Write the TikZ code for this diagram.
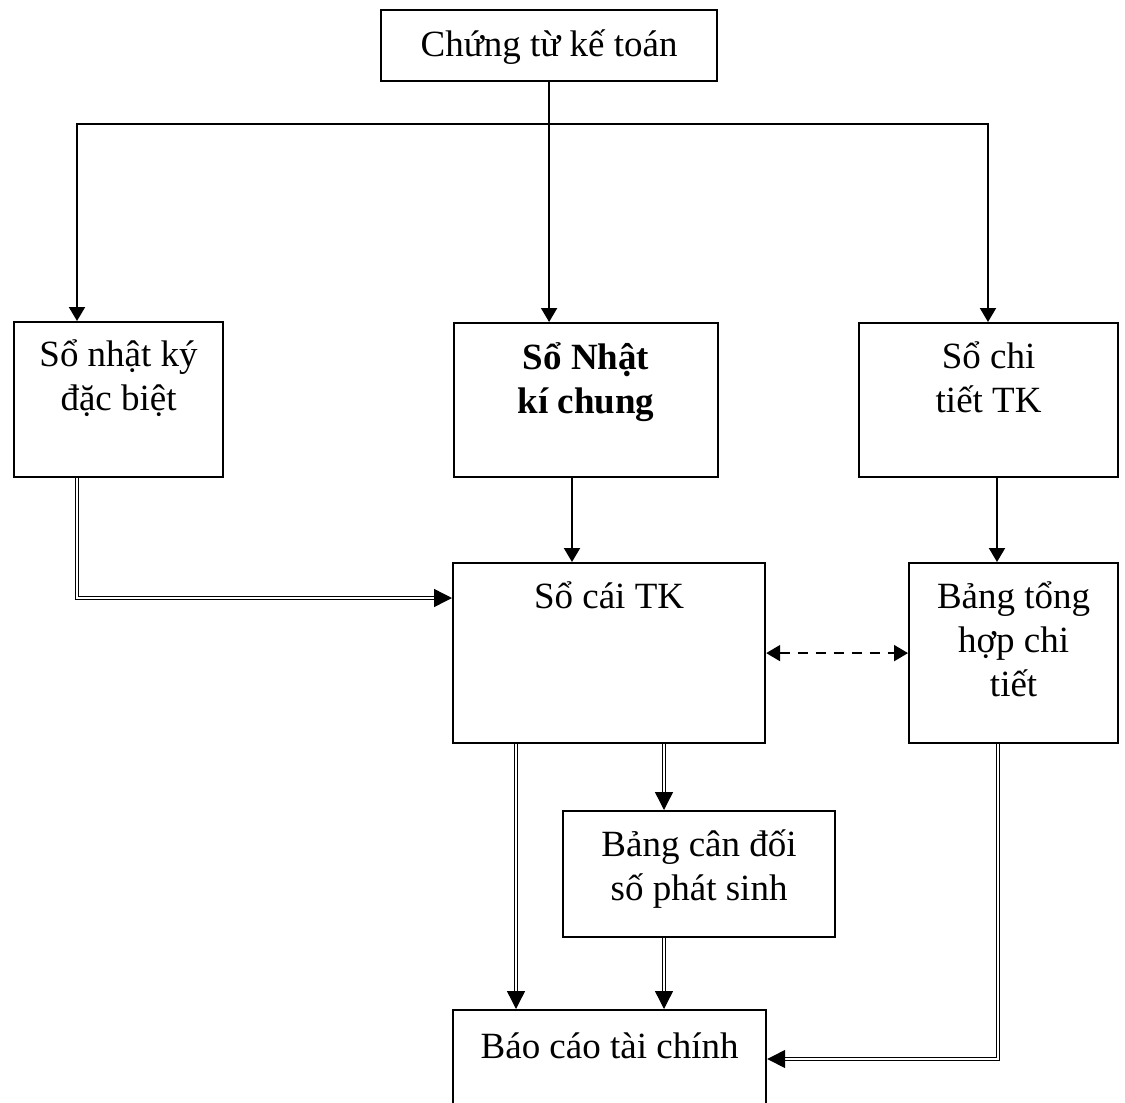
\documentclass[tikz,border=0pt]{standalone}
\usepackage{fontspec}
\setmainfont{Liberation Serif}
\usetikzlibrary{arrows.meta}
\begin{document}
\begin{tikzpicture}[x=0.5pt, y=-0.5pt,
    box/.style={draw, line width=1.1pt, inner sep=0pt, anchor=north west, align=flush center,
      font=\fontsize{18.5}{22}\selectfont},
    arr/.style={line width=1pt, -{Triangle[length=7pt, width=8pt]}},
    dbl/.style={double, double distance=0.9pt, line width=0.7pt, -{Triangle[length=9pt, width=9pt]}},
    dashline/.style={line width=1pt, dash pattern=on 5pt off 4pt,
      {Triangle[length=7pt, width=8pt]}-{Triangle[length=7pt, width=8pt]}}]
  \useasboundingbox (0,0) rectangle (1125,1103);
  % Chung tu ke toan
  \node[box, text width=168pt, text height=23pt, text depth=12.5pt] (ctu) at (380,9) {Chứng từ kế toán};
  % cac so
  \node[box, text width=104.5pt, text height=22pt, text depth=55.5pt] (nky) at (13,321) {Sổ nhật ký\\đặc biệt};
  \node[box, text width=132pt, text height=23pt, text depth=54pt, font=\fontsize{18.5}{22}\selectfont\bfseries] (nkc) at (453,322) {Sổ Nhật\\kí chung};
  \node[box, text width=129.5pt, text height=22.5pt, text depth=54.5pt] (ct) at (858,322) {Sổ chi\\tiết TK};
  \node[box, text width=156pt, text height=22.5pt, text depth=67.5pt] (socai) at (452,562) {Sổ cái TK};
  \node[box, text width=104.5pt, text height=22.5pt, text depth=67.5pt] (bth) at (908,562) {Bảng tổng\\hợp chi\\tiết};
  \node[box, text width=136pt, text height=22.5pt, text depth=40.5pt] (cdps) at (562,810) {Bảng cân đối\\số phát sinh};
  \node[box, text width=156.5pt, text height=24pt, text depth=40pt] (bctc) at (452,1009) {Báo cáo tài chính};
  % duong phan nhanh
  \coordinate (bus) at (548,124);
  \coordinate (busL) at (77,124);
  \coordinate (busR) at (988,124);
  \draw[arr] (ctu.south) -- (ctu.south |- nkc.north);
  \draw[arr] (bus) -| (nky.north -| busL);
  \draw[arr] (bus) -| (ct.north -| busR);
  % len so cai va bang tong hop
  \coordinate (c1) at (572,0);
  \coordinate (c2) at (997,0);
  \draw[arr] (nkc.south -| c1) -- (socai.north -| c1);
  \draw[arr] (ct.south -| c2) -- (bth.north -| c2);
  \coordinate (k1) at (77,598);
  \draw[dbl] (nky.south -| k1) |- (socai.west |- k1);
  \draw[dashline] (socai.east) -- (bth.west);
  % len bao cao
  \coordinate (c3) at (516,0);
  \coordinate (c4) at (664,0);
  \draw[dbl] (socai.south -| c3) -- (bctc.north -| c3);
  \draw[dbl] (socai.south -| c4) -- (cdps.north -| c4);
  \draw[dbl] (cdps.south -| c4) -- (bctc.north -| c4);
  \coordinate (k2) at (998,1059);
  \draw[dbl] (bth.south -| k2) |- (bctc.east |- k2);
\end{tikzpicture}
\end{document}
